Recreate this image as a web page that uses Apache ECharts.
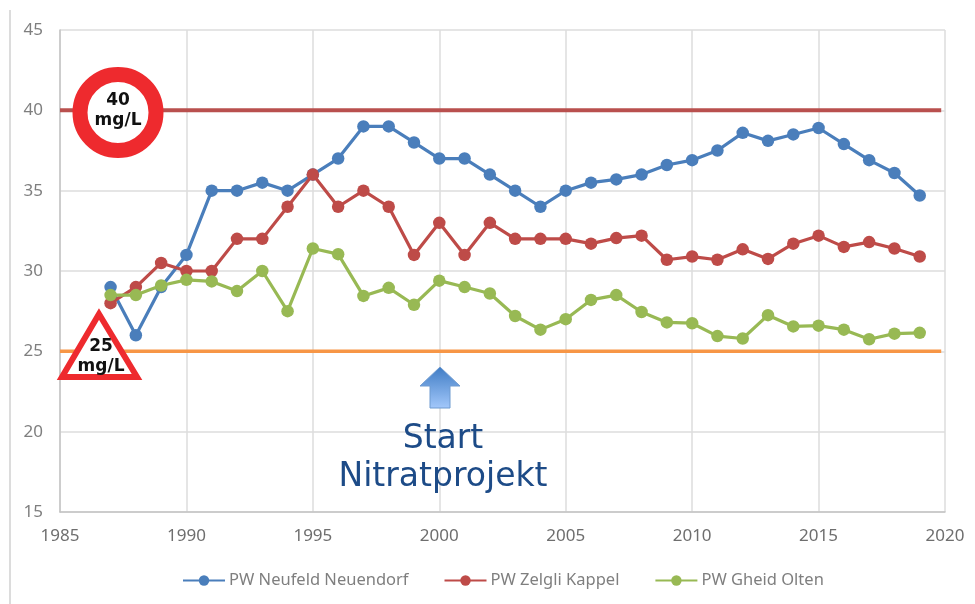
<!DOCTYPE html>
<html><head><meta charset="utf-8">
<style>html,body{margin:0;padding:0;background:#fff}#c{width:975px;height:604px}</style>
<script src="https://cdn.jsdelivr.net/npm/echarts@6/dist/echarts.min.js"></script>
</head><body><div id="c"></div>
<script>
const years=[1987,1988,1989,1990,1991,1992,1993,1994,1995,1996,1997,1998,1999,2000,2001,2002,2003,2004,2005,2006,2007,2008,2009,2010,2011,2012,2013,2014,2015,2016,2017,2018,2019];
const neufeld=[29,26,29,31,35,35,35.5,35,36,37,39,39,38,37,37,36,35,34,35,35.5,35.7,36,36.6,36.9,37.5,38.6,38.1,38.5,38.9,37.9,36.9,36.1,34.7];
const zelgli=[28,29,30.5,30,30,32,32,34,36,34,35,34,31,33,31,33,32,32,32,31.7,32.05,32.2,30.7,30.9,30.7,31.35,30.75,31.7,32.2,31.5,31.8,31.4,30.9];
const gheid=[28.5,28.5,29.1,29.45,29.35,28.75,30,27.5,31.4,31.05,28.45,28.95,27.9,29.4,29,28.6,27.2,26.35,27,28.2,28.5,27.45,26.8,26.75,25.95,25.8,27.25,26.55,26.6,26.35,25.75,26.1,26.15];
const limitYears=[1985,2019.85];
const limitHigh=40, limitLow=25;
const names=['PW Neufeld Neuendorf','PW Zelgli Kappel','PW Gheid Olten'];
const colors=['#4a7ebb','#be4b48','#98b954'];
const font='"Noto Sans"';
const pair=(v)=>years.map((y,i)=>[y,v[i]]);
const mk=(name,v,color,z)=>({name,type:'line',data:pair(v),symbol:'circle',symbolSize:12.5,z,
  lineStyle:{color,width:3.2},itemStyle:{color},animation:false});
const limit=(name,val,color,w)=>({name,type:'line',data:limitYears.map(y=>[y,val]),symbol:'none',z:1,
  lineStyle:{color,width:w},animation:false});
const signText=(x,y,t)=>({type:'text',z:30,style:{x,y,text:t,align:'center',verticalAlign:'middle',fill:'#111',font:'bold 17px "DejaVu Sans"'}});
const chart=echarts.init(document.getElementById('c'),null,{renderer:'canvas'});
chart.setOption({
  animation:false,backgroundColor:'#fff',
  grid:{left:60,right:30,top:30,bottom:92,containLabel:false},
  legend:{data:names,left:177,top:567,itemWidth:42,itemHeight:13,itemGap:35,
    textStyle:{color:'#7f7f7f',fontFamily:font,fontSize:16.5,padding:[0,0,0,-1]}},
  xAxis:{type:'value',min:1985,max:2020,interval:5,
    axisLine:{show:true,lineStyle:{color:'#c4c4c4',width:1.5}},axisTick:{show:false},
    axisLabel:{color:'#6e6e6e',fontFamily:font,fontSize:17,margin:16,formatter:v=>String(v)},
    splitLine:{show:true,lineStyle:{color:'#dcdcdc',width:1.5}}},
  yAxis:{type:'value',min:15,max:45,interval:5,
    axisLine:{show:true,lineStyle:{color:'#c4c4c4',width:1.5}},axisTick:{show:false},
    axisLabel:{color:'#7f7f7f',fontFamily:font,fontSize:17,margin:17},
    splitLine:{show:true,lineStyle:{color:'#dcdcdc',width:1.5}}},
  series:[
    limit('Grenzwert 40',limitHigh,'#b9504e',4),
    limit('Richtwert 25',limitLow,'#f79646',3.5),
    mk(names[0],neufeld,colors[0],5),
    mk(names[1],zelgli,colors[1],6),
    mk(names[2],gheid,colors[2],7)
  ],
  graphic:[
    {type:'line',z:0,shape:{x1:10,y1:10,x2:10,y2:604},style:{stroke:'#dcdcdc',lineWidth:2}},
    {type:'circle',z:20,shape:{cx:118,cy:112.5,r:38},style:{fill:'#fff',stroke:'#ee2a2e',lineWidth:15}},
    signText(118,101,'40'),signText(118,121,'mg/L'),
    {type:'polygon',z:20,shape:{points:[[99,314],[62,377],[137,377]]},
      style:{fill:'#fff',stroke:'#ee2a2e',lineWidth:6,lineJoin:'miter'}},
    signText(101,347,'25'),signText(101,367,'mg/L'),
    {type:'polygon',z:20,shape:{points:[[440,367],[460,386],[450,386],[450,408],[430,408],[430,386],[420,386]]},
      style:{fill:new echarts.graphic.LinearGradient(0,0,0,1,[{offset:0,color:'#3f7cc4'},{offset:1,color:'#a3c8fb'}]),stroke:'#6f9bd0',lineWidth:1}},
    {type:'text',z:25,style:{x:443,y:439,text:'Start',align:'center',verticalAlign:'middle',fill:'#1d4b87',font:'33px "DejaVu Sans"'}},
    {type:'text',z:25,style:{x:443,y:477,text:'Nitratprojekt',align:'center',verticalAlign:'middle',fill:'#1d4b87',font:'33px "DejaVu Sans"'}}
  ]
});
</script></body></html>
